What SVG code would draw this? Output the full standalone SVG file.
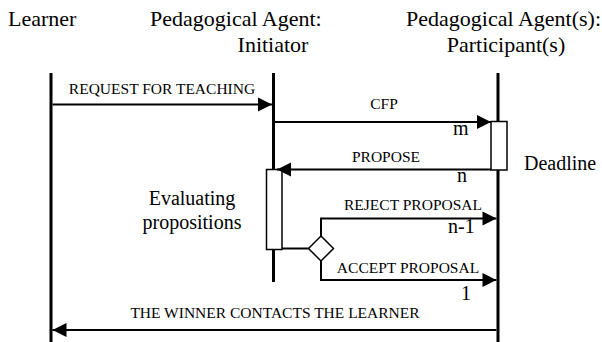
<svg xmlns="http://www.w3.org/2000/svg" width="602" height="342" viewBox="0 0 602 342">
<style>
.t{font-size:22px}
.b{font-size:20px}
.s{font-size:15.5px}
.life{stroke:#000;stroke-width:3;fill:none}
.msg{stroke:#000;stroke-width:2;fill:none}
.act{fill:#fff;stroke:#000;stroke-width:1.5}
</style>
<defs>
<marker id="ah" markerUnits="userSpaceOnUse" markerWidth="14" markerHeight="14" refX="14" refY="7" orient="auto" overflow="visible">
<path d="M0,0 L14,7 L0,14 z" fill="#000"/>
</marker>
</defs>
<rect width="602" height="342" fill="#fff"/>
<g font-family="'Liberation Serif', serif" fill="#000">
<g id="learner">
<text class="t" x="8" y="26">Learner</text>
<line class="life" x1="51" y1="73" x2="51" y2="342"/>
</g>
<g id="initiator">
<text class="t" x="150" y="26">Pedagogical Agent:</text>
<text class="t" x="273" y="52" text-anchor="middle">Initiator</text>
<line class="life" x1="273.5" y1="73" x2="273.5" y2="282"/>
<rect class="act" x="266.5" y="169.5" width="15.5" height="80"/>
<text class="b" x="192" y="205" text-anchor="middle">Evaluating</text>
<text class="b" x="192" y="229" text-anchor="middle">propositions</text>
</g>
<g id="participant">
<text class="t" x="601" y="26" text-anchor="end">Pedagogical Agent(s):</text>
<text class="t" x="506" y="52" text-anchor="middle">Participant(s)</text>
<line class="life" x1="498" y1="73" x2="498" y2="342"/>
<rect class="act" x="491" y="121.5" width="16" height="48.5"/>
<text class="b" x="524" y="170">Deadline</text>
</g>
<g id="decision">
<path d="M321,236 L333.5,248.5 L321,261 L308.5,248.5 z" fill="#fff" stroke="#000" stroke-width="1.5"/>
</g>
<g id="connectors">
<line class="msg" x1="52.5" y1="104.5" x2="272" y2="104.5" marker-end="url(#ah)"/>
<text class="s" x="162" y="94" text-anchor="middle">REQUEST FOR TEACHING</text>
<line class="msg" x1="275" y1="122" x2="491" y2="122" marker-end="url(#ah)"/>
<text class="s" x="384" y="109" text-anchor="middle">CFP</text>
<text class="b" x="453" y="135">m</text>
<line class="msg" x1="491" y1="169.5" x2="277" y2="169.5" marker-end="url(#ah)"/>
<text class="s" x="386" y="161.5" text-anchor="middle">PROPOSE</text>
<text class="b" x="457" y="182">n</text>
<line class="msg" x1="282" y1="248.5" x2="308.5" y2="248.5"/>
<polyline class="msg" points="321,236 321,218.5 496.5,218.5" marker-end="url(#ah)"/>
<text class="s" x="413" y="210" text-anchor="middle">REJECT PROPOSAL</text>
<text class="b" x="448" y="233">n-1</text>
<polyline class="msg" points="321,261 321,280 496.5,280" marker-end="url(#ah)"/>
<text class="s" x="408" y="273" text-anchor="middle">ACCEPT PROPOSAL</text>
<text class="b" x="461" y="300">1</text>
<line class="msg" x1="496.5" y1="330" x2="52.5" y2="330" marker-end="url(#ah)"/>
<text class="s" x="275" y="318" text-anchor="middle">THE WINNER CONTACTS THE LEARNER</text>
</g>
</g>
</svg>
